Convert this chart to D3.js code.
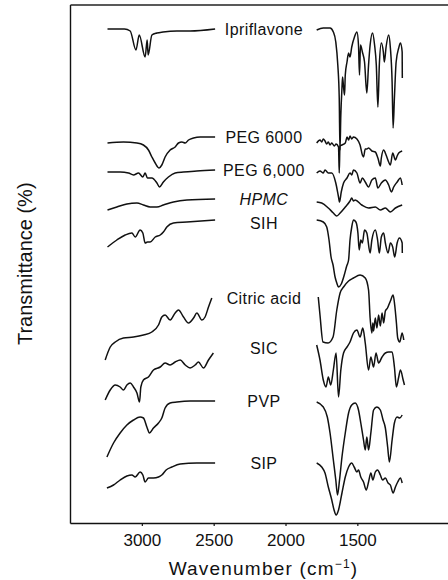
<!DOCTYPE html>
<html>
<head>
<meta charset="utf-8">
<script src="https://cdn.jsdelivr.net/npm/d3@7"></script>
<style>
  body { margin: 0; background: #fff; }
  svg { display: block; font-family: "Liberation Sans", Arial, Helvetica, sans-serif; }
</style>
</head>
<body>
<div id="chart"></div>
<script>
// IR spectra, [wavenumber (cm-1), transmittance (arb., stacked)]
const wavenumberTicks = [3000, 2500, 2000, 1500]

const ipriflavoneLeft = [[3239, 494], [3121, 494], [3081, 492], [3041, 473], [3018, 488], [2977, 466], [2963, 483], [2956, 468], [2930, 488], [2895, 490], [2852, 491], [2756, 492], [2664, 492], [2490, 494]]
const ipriflavoneRight = [[1783, 493], [1737, 495], [1690, 495], [1667, 491], [1650, 481], [1636, 458], [1626, 425], [1621, 373], [1615, 408], [1607, 435], [1603, 446], [1596, 436], [1589, 428], [1584, 448], [1572, 461], [1561, 470], [1551, 466], [1539, 476], [1520, 486], [1503, 491], [1492, 478], [1485, 448], [1478, 478], [1465, 471], [1450, 461], [1434, 430], [1422, 458], [1411, 478], [1394, 490], [1380, 478], [1368, 458], [1357, 416], [1347, 458], [1333, 480], [1319, 471], [1312, 461], [1300, 476], [1282, 488], [1270, 475], [1258, 441], [1251, 395], [1242, 425], [1230, 461], [1212, 475], [1200, 480], [1188, 471], [1187, 445]]

const peg6000Left = [[3239, 380], [3128, 381], [3034, 380], [2989, 378], [2954, 373], [2930, 366], [2907, 360], [2880, 355], [2861, 358], [2838, 366], [2803, 373], [2768, 376], [2745, 380], [2721, 381], [2698, 380], [2675, 383], [2640, 385], [2594, 386], [2490, 386]]
const peg6000Right = [[1783, 380], [1760, 383], [1748, 381], [1737, 384], [1725, 382], [1713, 379], [1702, 381], [1690, 378], [1678, 380], [1660, 377], [1648, 379], [1631, 376], [1626, 350], [1621, 377], [1607, 378], [1584, 380], [1572, 386], [1561, 383], [1551, 387], [1539, 384], [1527, 386], [1503, 384], [1481, 378], [1465, 368], [1457, 366], [1445, 374], [1434, 374], [1422, 375], [1399, 372], [1375, 371], [1357, 365], [1340, 357], [1333, 365], [1317, 373], [1300, 368], [1282, 361], [1270, 358], [1254, 370], [1235, 363], [1223, 367], [1212, 370], [1188, 372]]

const peg6000bLeft = [[3239, 351], [3151, 351], [3093, 350], [3058, 348], [3023, 350], [2993, 346], [2977, 350], [2961, 345], [2930, 345], [2895, 340], [2877, 336], [2850, 341], [2815, 346], [2768, 350], [2710, 351], [2617, 352], [2490, 353]]
const peg6000bRight = [[1783, 350], [1760, 352], [1737, 350], [1725, 353], [1702, 350], [1678, 350], [1650, 340], [1631, 326], [1624, 321], [1612, 331], [1596, 340], [1572, 345], [1551, 350], [1539, 348], [1527, 353], [1503, 350], [1481, 340], [1465, 345], [1445, 341], [1422, 336], [1399, 343], [1375, 345], [1357, 335], [1333, 340], [1305, 343], [1282, 338], [1263, 331], [1247, 336], [1223, 341], [1200, 345], [1188, 338]]

const hpmcLeft = [[3239, 313], [3174, 316], [3104, 319], [3034, 320], [2989, 318], [2942, 316], [2895, 316], [2850, 318], [2780, 321], [2686, 323], [2490, 324]]
const hpmcRight = [[1783, 321], [1748, 320], [1702, 315], [1667, 310], [1643, 307], [1620, 310], [1584, 316], [1551, 322], [1539, 325], [1527, 322], [1515, 323], [1469, 318], [1422, 315], [1375, 316], [1340, 313], [1305, 315], [1270, 311], [1235, 315], [1188, 318]]

const sihLeft = [[3239, 276], [3174, 283], [3116, 288], [3069, 290], [3046, 286], [3012, 293], [2993, 290], [2977, 280], [2961, 281], [2942, 281], [2907, 286], [2872, 288], [2850, 291], [2826, 296], [2780, 300], [2686, 301], [2490, 303]]
const sihRight = [[1783, 303], [1737, 301], [1713, 296], [1697, 283], [1683, 266], [1669, 258], [1655, 246], [1643, 240], [1631, 236], [1612, 239], [1591, 248], [1574, 257], [1561, 263], [1551, 283], [1539, 296], [1527, 303], [1510, 301], [1496, 290], [1487, 273], [1476, 283], [1465, 280], [1450, 293], [1434, 290], [1411, 270], [1399, 283], [1375, 293], [1359, 283], [1347, 270], [1333, 286], [1317, 290], [1305, 280], [1286, 270], [1270, 280], [1254, 276], [1240, 266], [1223, 280], [1207, 285], [1188, 280], [1187, 270]]

const citricLeft = [[3255, 163], [3220, 176], [3185, 181], [3128, 185], [3058, 186], [2989, 188], [2930, 191], [2884, 198], [2861, 206], [2838, 208], [2803, 203], [2768, 210], [2745, 213], [2710, 206], [2675, 200], [2640, 205], [2617, 210], [2582, 203], [2560, 206], [2536, 216], [2513, 225]]
const citricRight = [[1772, 226], [1760, 208], [1739, 181], [1704, 180], [1669, 186], [1643, 213], [1620, 230], [1596, 236], [1561, 242], [1527, 245], [1481, 248], [1445, 245], [1422, 233], [1411, 205], [1399, 190], [1392, 200], [1387, 192], [1375, 205], [1364, 195], [1352, 208], [1340, 197], [1328, 210], [1317, 200], [1305, 212], [1290, 215], [1270, 222], [1251, 228], [1240, 218], [1228, 200], [1219, 185], [1205, 181], [1188, 190], [1177, 183]]

const sicLeft = [[3255, 123], [3220, 133], [3185, 138], [3151, 136], [3128, 133], [3104, 138], [3081, 140], [3058, 136], [3034, 130], [3016, 121], [3007, 136], [2989, 143], [2954, 146], [2919, 153], [2872, 156], [2838, 160], [2803, 158], [2768, 161], [2733, 163], [2698, 158], [2664, 155], [2629, 158], [2606, 161], [2571, 155], [2536, 163], [2502, 170]]
const sicRight = [[1783, 178], [1760, 163], [1737, 143], [1718, 136], [1702, 146], [1685, 138], [1667, 153], [1648, 170], [1631, 126], [1615, 153], [1596, 170], [1572, 176], [1551, 181], [1527, 190], [1503, 193], [1481, 186], [1462, 195], [1445, 180], [1422, 153], [1406, 166], [1387, 156], [1370, 170], [1352, 160], [1328, 166], [1305, 170], [1282, 171], [1258, 171], [1242, 156], [1228, 136], [1212, 146], [1200, 153], [1181, 143], [1172, 138]]

const pvpLeft = [[3243, 66], [3197, 80], [3151, 90], [3104, 98], [3058, 103], [3012, 106], [2989, 105], [2965, 96], [2947, 90], [2919, 95], [2884, 100], [2861, 105], [2838, 115], [2803, 120], [2756, 121], [2664, 122], [2490, 122]]
const pvpRight = [[1783, 121], [1737, 116], [1709, 106], [1690, 90], [1667, 63], [1650, 43], [1638, 28], [1624, 43], [1607, 66], [1584, 90], [1561, 110], [1539, 118], [1515, 120], [1492, 113], [1476, 100], [1457, 83], [1445, 73], [1434, 86], [1422, 73], [1406, 90], [1387, 113], [1364, 116], [1340, 113], [1321, 103], [1305, 95], [1289, 76], [1277, 61], [1258, 83], [1242, 100], [1223, 106], [1205, 105], [1188, 108]]

const sipLeft = [[3243, 35], [3197, 38], [3151, 43], [3104, 47], [3069, 48], [3046, 46], [3012, 51], [2993, 48], [2977, 41], [2954, 45], [2919, 45], [2884, 46], [2861, 48], [2831, 53], [2791, 56], [2733, 59], [2617, 60], [2490, 60]]
const sipRight = [[1783, 60], [1748, 56], [1725, 50], [1702, 36], [1678, 23], [1662, 13], [1648, 8], [1631, 13], [1607, 30], [1584, 46], [1561, 56], [1539, 60], [1522, 56], [1503, 51], [1492, 53], [1476, 46], [1457, 41], [1438, 33], [1422, 41], [1406, 50], [1392, 43], [1375, 51], [1359, 53], [1340, 48], [1324, 43], [1305, 45], [1286, 40], [1270, 38], [1251, 30], [1235, 36], [1219, 41], [1200, 45], [1188, 40]]

const sampleNames = ['Ipriflavone', 'PEG 6000', 'PEG 6,000', 'HPMC', 'SIH', 'Citric acid', 'SIC', 'PVP', 'SIP']

const spectra = [
  { name: sampleNames[0], left: ipriflavoneLeft, right: ipriflavoneRight },
  { name: sampleNames[1], left: peg6000Left, right: peg6000Right },
  { name: sampleNames[2], left: peg6000bLeft, right: peg6000bRight },
  { name: sampleNames[3], left: hpmcLeft, right: hpmcRight, italic: true },
  { name: sampleNames[4], left: sihLeft, right: sihRight, dy: 3 },
  { name: sampleNames[5], left: citricLeft, right: citricRight, dy: 0 },
  { name: sampleNames[6], left: sicLeft, right: sicRight, dy: -5 },
  { name: sampleNames[7], left: pvpLeft, right: pvpRight },
  { name: sampleNames[8], left: sipLeft, right: sipRight }
]

const width = 448
const height = 580
const plot = { left: 70, right: 448, top: 4.5, bottom: 523 }

const svg = d3.select('#chart').append('svg')
  .attr('width', width)
  .attr('height', height)

// scales (x reversed, as usual for IR)
const xScale = d3.scaleLinear().domain([3500, 869]).range([plot.left, plot.right])
const yScale = d3.scaleLinear().domain([0, 518.5]).range([plot.bottom, plot.top])

// frame
const xAxis = svg.append('g')
  .attr('transform', `translate(0,${plot.bottom})`)
  .call(d3.axisBottom(xScale).tickValues(wavenumberTicks).tickSizeInner(3).tickSizeOuter(0).tickFormat(d3.format('d')))
xAxis.select('.domain').attr('stroke', '#111').attr('stroke-width', 1.6)
xAxis.selectAll('.tick line').attr('stroke', '#111').attr('stroke-width', 1.2)
xAxis.selectAll('.tick text')
  .attr('y', 11)
  .attr('fill', '#111')
  .style('font-size', '17px')

svg.append('g')
  .attr('transform', `translate(${plot.left},0)`)
  .call(d3.axisLeft(yScale).tickValues([]).tickSizeOuter(0))
  .select('.domain').attr('stroke', '#111').attr('stroke-width', 1.4)

svg.append('g')
  .attr('transform', `translate(0,${plot.top})`)
  .call(d3.axisTop(xScale).tickValues([]).tickSizeOuter(0))
  .select('.domain').attr('stroke', '#222').attr('stroke-width', 1.4)

// spectra
const line = d3.line()
  .x(d => xScale(d[0]))
  .y(d => yScale(d[1]))
  .curve(d3.curveMonotoneX)

const groups = svg.append('g').selectAll('g')
  .data(spectra)
  .join('g')

groups.selectAll('path')
  .data(d => [d.left, d.right])
  .join('path')
  .attr('d', line)
  .attr('fill', 'none')
  .attr('stroke', '#111')
  .attr('stroke-width', 1.5)
  .attr('stroke-linejoin', 'round')

// sample labels sit in the gap, level with the end of the C-H region trace
groups.append('text')
  .attr('x', xScale(2150))
  .attr('y', d => yScale(d.left[d.left.length - 1][1]) + (d.dy || 0))
  .attr('dy', '0.36em')
  .attr('text-anchor', 'middle')
  .attr('fill', '#111')
  .style('font-size', '16px')
  .style('letter-spacing', '0.4px')
  .style('font-style', d => d.italic ? 'italic' : 'normal')
  .text(d => d.name)

// axis titles
const xTitle = svg.append('text')
  .attr('x', 263.5)
  .attr('y', 575)
  .attr('text-anchor', 'middle')
  .attr('fill', '#111')
  .style('font-size', '19px')
  .style('letter-spacing', '1.2px')
xTitle.append('tspan').text('Wavenumber (cm')
xTitle.append('tspan').attr('dy', -7).style('font-size', '12px').text('\u22121')
xTitle.append('tspan').attr('dy', 7).text(')')

svg.append('text')
  .attr('transform', `translate(31.5,${(plot.top + plot.bottom) / 2}) rotate(-90)`)
  .attr('text-anchor', 'middle')
  .attr('fill', '#111')
  .style('font-size', '20px')
  .text('Transmittance (%)')
</script>
</body>
</html>
